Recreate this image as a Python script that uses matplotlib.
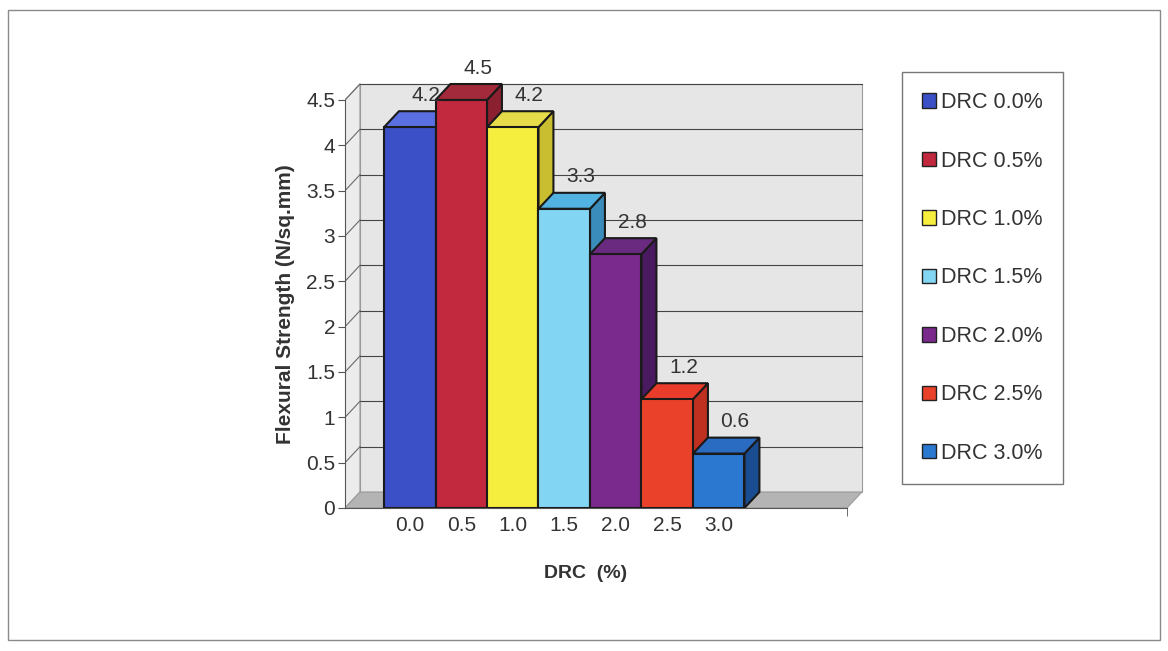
import numpy as np
import matplotlib
matplotlib.use("Agg")
import matplotlib.pyplot as plt
from matplotlib.patches import Polygon, Patch, Rectangle

plt.rcParams['font.family'] = ['Liberation Sans', 'DejaVu Sans']

# flexural strength for each DRC dosage
drc_labels = ["0.0", "0.5", "1.0", "1.5", "2.0", "2.5", "3.0"]
legend_labels = ["DRC 0.0%", "DRC 0.5%", "DRC 1.0%", "DRC 1.5%",
                 "DRC 2.0%", "DRC 2.5%", "DRC 3.0%"]
strength = [4.2, 4.5, 4.2, 3.3, 2.8, 1.2, 0.6]

# (front, top, side) shades for the pseudo-3D boxes
front_cols = ["#3b4fc6", "#c2283e", "#f6ee3e", "#82d6f4", "#7a2a8c", "#ea422a", "#2a78d0"]
top_cols = ["#5a70e2", "#a32a3a", "#e6dc4a", "#52b2e2", "#6a2a80", "#ea3c2a", "#2a6cc2"]
side_cols = ["#2a3a94", "#8a2030", "#c8be30", "#3a8cba", "#4a1a60", "#c03020", "#1a4c92"]

fig = plt.figure(figsize=(11.68, 6.51), dpi=100)
fig.patches.append(Rectangle((0.007, 0.017), 0.986, 0.967, transform=fig.transFigure,
                             fill=False, edgecolor="#8a8a8a", linewidth=1.0))

ax = fig.add_axes([0.2954, 0.2197, 0.458, 0.688])
xl, xr = -1.257, 8.49      # front edges of the floor
dx, dy = 0.29, 0.176       # depth offset
ymax = 4.5
ax.set_xlim(xl, xl + 10.388)
ax.set_ylim(0, 4.94)

# walls and floor
ax.add_patch(Polygon([(xl + dx, dy), (xr + dx, dy), (xr + dx, ymax + dy), (xl + dx, ymax + dy)],
                     closed=True, facecolor="#e6e6e6", edgecolor="#9a9a9a", lw=0.8, zorder=0))
ax.add_patch(Polygon([(xl, 0), (xl + dx, dy), (xl + dx, ymax + dy), (xl, ymax)],
                     closed=True, facecolor="#ececec", edgecolor="#9a9a9a", lw=0.8, zorder=0))
ax.add_patch(Polygon([(xl, 0), (xr, 0), (xr + dx, dy), (xl + dx, dy)],
                     closed=True, facecolor="#b4b4b4", edgecolor="#9a9a9a", lw=0.8, zorder=0.5))
for g in np.arange(0.5, ymax + 0.01, 0.5):
    ax.plot([xl + dx, xr + dx], [g + dy, g + dy], color="#444444", lw=0.8, zorder=0.6)
    ax.plot([xl, xl + dx], [g, g + dy], color="#6a6a6a", lw=0.8, zorder=0.6)

# bars, left to right so each front face covers the previous side face
for i, v in enumerate(strength):
    z = 2 + i
    x0, x1 = i - 0.5, i + 0.5
    ax.add_patch(Polygon([(x1, 0), (x1 + dx, dy), (x1 + dx, v + dy), (x1, v)], closed=True,
                         facecolor=side_cols[i], edgecolor="#1a1a1a", lw=1.5, zorder=z))
    ax.add_patch(Polygon([(x0, v), (x1, v), (x1 + dx, v + dy), (x0 + dx, v + dy)], closed=True,
                         facecolor=top_cols[i], edgecolor="#1a1a1a", lw=1.5, zorder=z))
    ax.bar(i, v, width=1.0, color=front_cols[i], edgecolor="#1a1a1a", linewidth=1.5, zorder=z)
    ax.text(i + dx * 1.1, v + dy + 0.07, f"{v:.1f}", ha="center", va="bottom",
            fontsize=15, color="#333333", zorder=20)

# axes
for s in ["top", "right"]:
    ax.spines[s].set_visible(False)
ax.spines["left"].set_bounds(0, ymax)
ax.spines["bottom"].set_bounds(xl, xr)
ax.spines["left"].set_color("#555555")
ax.spines["bottom"].set_color("#555555")
ax.set_yticks(np.arange(0, ymax + 0.01, 0.5))
ax.set_yticklabels([f"{t:g}" for t in np.arange(0, ymax + 0.01, 0.5)])
ax.set_xticks(range(len(drc_labels)))
ax.set_xticklabels(drc_labels)
ax.tick_params(axis="y", length=5, color="#555555", labelsize=15, labelcolor="#333333", pad=2)
ax.tick_params(axis="x", length=0, labelsize=15, labelcolor="#333333", pad=6)
ax.set_xticks([xr], minor=True)
ax.tick_params(axis="x", which="minor", length=6, color="#555555")

ax.set_ylabel("Flexural Strength (N/sq.mm)", fontsize=15, fontweight="bold", color="#333333")
ax.yaxis.set_label_coords(-0.093, 0.455)
ax.set_xlabel("DRC  (%)", fontsize=14, fontweight="bold", color="#333333")
ax.xaxis.set_label_coords(0.45, -0.128)

handles = [Patch(facecolor=c, edgecolor="#222222", linewidth=1.0) for c in front_cols]
leg = fig.legend(handles, legend_labels, loc="center", bbox_to_anchor=(0.841, 0.573),
                 fontsize=15.5, frameon=True, fancybox=False, edgecolor="#555555",
                 handlelength=0.65, handleheight=0.65, handletextpad=0.2,
                 labelspacing=1.74, borderpad=0.95, borderaxespad=0)
leg.get_frame().set_linewidth(1.0)
for t in leg.get_texts():
    t.set_color("#333333")

fig.savefig("out.png", dpi=100, facecolor="white")
